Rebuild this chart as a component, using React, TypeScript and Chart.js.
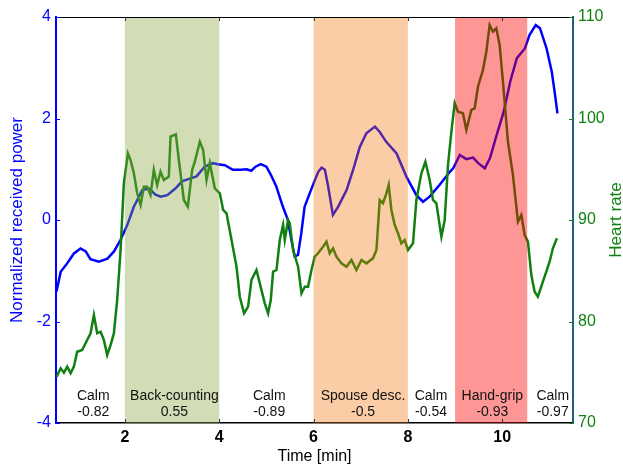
import React, { useEffect, useRef } from 'react';
import { Chart, registerables } from 'chart.js';

Chart.register(...registerables);

// Normalized received power (left axis)
const powerTime = [0.55, 0.64, 0.78, 0.92, 1.06, 1.17, 1.27, 1.45, 1.63, 1.77, 1.91, 2.05, 2.19, 2.37, 2.51, 2.65, 2.76, 2.9, 3.07, 3.21, 3.39, 3.52, 3.69, 3.87, 3.97, 4.12, 4.29, 4.45, 4.58, 4.68, 4.77, 4.88, 5.0, 5.1, 5.21, 5.35, 5.45, 5.53, 5.6, 5.67, 5.74, 5.81, 5.92, 6.03, 6.1, 6.17, 6.24, 6.31, 6.41, 6.52, 6.7, 6.84, 6.98, 7.12, 7.3, 7.4, 7.54, 7.76, 7.97, 8.18, 8.32, 8.46, 8.67, 8.89, 8.96, 9.1, 9.24, 9.38, 9.49, 9.63, 9.74, 9.88, 10.03, 10.17, 10.31, 10.48, 10.58, 10.71, 10.8, 10.94, 11.05, 11.12, 11.17];
const powerValues = [-1.41, -1.02, -0.85, -0.66, -0.56, -0.62, -0.77, -0.82, -0.76, -0.62, -0.39, -0.1, 0.26, 0.59, 0.62, 0.5, 0.46, 0.49, 0.62, 0.76, 0.82, 0.86, 1.05, 1.12, 1.1, 1.08, 0.99, 0.99, 1.0, 0.97, 1.05, 1.1, 1.05, 0.88, 0.66, 0.26, 0.02, -0.39, -0.72, -0.69, -0.26, 0.26, 0.53, 0.79, 0.95, 1.03, 0.99, 0.66, 0.1, 0.26, 0.59, 0.99, 1.44, 1.71, 1.84, 1.74, 1.54, 1.31, 0.85, 0.49, 0.36, 0.46, 0.69, 0.95, 1.02, 1.28, 1.2, 1.23, 1.12, 1.02, 1.22, 1.67, 2.13, 2.73, 3.19, 3.38, 3.65, 3.84, 3.78, 3.38, 2.92, 2.46, 2.1];

// Heart rate (right axis)
const hrTime = [0.553, 0.638, 0.708, 0.778, 0.85, 0.919, 0.989, 1.095, 1.201, 1.273, 1.343, 1.413, 1.485, 1.555, 1.625, 1.697, 1.767, 1.837, 1.909, 1.979, 2.064, 2.121, 2.191, 2.261, 2.333, 2.403, 2.472, 2.544, 2.614, 2.684, 2.756, 2.826, 2.932, 2.968, 3.081, 3.144, 3.25, 3.335, 3.426, 3.483, 3.589, 3.659, 3.731, 3.801, 3.907, 4.013, 4.083, 4.155, 4.261, 4.367, 4.436, 4.527, 4.612, 4.684, 4.79, 4.86, 4.966, 5.036, 5.093, 5.142, 5.214, 5.284, 5.354, 5.39, 5.46, 5.496, 5.566, 5.672, 5.744, 5.814, 5.883, 5.956, 6.025, 6.095, 6.201, 6.273, 6.343, 6.413, 6.485, 6.591, 6.697, 6.803, 6.909, 7.015, 7.121, 7.261, 7.333, 7.403, 7.472, 7.544, 7.593, 7.65, 7.72, 7.79, 7.862, 7.932, 8.002, 8.108, 8.18, 8.286, 8.371, 8.462, 8.532, 8.604, 8.71, 8.78, 8.85, 8.922, 8.992, 9.061, 9.167, 9.239, 9.345, 9.415, 9.485, 9.591, 9.663, 9.733, 9.803, 9.875, 9.945, 10.015, 10.121, 10.227, 10.333, 10.405, 10.475, 10.545, 10.617, 10.686, 10.756, 10.862, 10.934, 11.004, 11.074, 11.159];
const hrValues = [74.56, 75.39, 74.96, 75.55, 74.9, 75.55, 77.02, 77.19, 78.18, 78.84, 80.64, 78.84, 79.0, 78.18, 76.7, 77.68, 78.84, 82.12, 87.04, 93.62, 96.57, 95.91, 94.6, 92.63, 91.48, 93.28, 93.28, 92.46, 94.93, 93.45, 94.76, 93.94, 94.27, 98.21, 98.44, 95.91, 91.97, 91.31, 94.93, 95.74, 97.71, 96.9, 93.94, 95.59, 93.12, 92.63, 90.99, 90.66, 88.03, 85.4, 82.44, 80.81, 81.46, 84.09, 85.07, 83.76, 81.79, 80.81, 82.12, 84.91, 85.07, 88.03, 89.51, 88.03, 90.0, 89.67, 87.04, 85.4, 82.78, 83.43, 83.43, 85.07, 86.38, 86.72, 87.37, 87.86, 86.72, 87.21, 86.38, 85.73, 85.4, 86.06, 85.07, 86.06, 85.73, 86.23, 87.04, 91.97, 91.65, 92.63, 93.45, 90.99, 89.51, 88.69, 87.7, 88.03, 87.04, 87.7, 91.97, 94.6, 95.74, 93.94, 91.97, 91.65, 88.35, 90.0, 95.42, 98.7, 101.5, 100.67, 100.51, 98.87, 100.84, 101.0, 103.13, 104.78, 106.58, 109.21, 108.55, 108.89, 107.24, 103.63, 97.71, 94.43, 89.83, 90.49, 88.52, 87.86, 84.58, 82.94, 82.44, 83.92, 84.91, 85.89, 87.21, 88.2];

const xTicks = [2, 4, 6, 8, 10];
const powerTicks = [-4, -2, 0, 2, 4];
const hrTicks = [70, 80, 90, 100, 110];

const shadeStart = [2, 6, 9];
const shadeEnd = [4, 8, 10.53];
const shadeColors = ['rgba(137,166,60,0.38)', 'rgba(241,113,0,0.35)', 'rgba(255,0,0,0.41)'];

const phaseNames = ['Calm', 'Back-counting', 'Calm', 'Spouse desc.', 'Calm', 'Hand-grip', 'Calm'];
const phaseCorr = ['-0.82', '0.55', '-0.89', '-0.5', '-0.54', '-0.93', '-0.97'];
const phaseCenter = [1.33, 3.05, 5.06, 7.05, 8.49, 9.79, 11.07];

const FONT = '"Liberation Sans", Arial, Helvetica, sans-serif';
const BLUE = '#0000ff';
const GREEN = '#108010';
const TEAL = '#1f5f7f';

const overlayPlugin = {
  id: 'overlayPlugin',
  afterDatasetsDraw(chart: any) {
    const { ctx, chartArea: ca, scales } = chart;
    const x = scales.x;
    const yl = scales.y;
    const yr = scales.y2;
    ctx.save();
    // shaded phases (drawn over the lines, translucent)
    shadeStart.forEach((s, i) => {
      const x1 = x.getPixelForValue(s);
      const x2 = x.getPixelForValue(shadeEnd[i]);
      ctx.fillStyle = shadeColors[i];
      ctx.fillRect(x1, ca.top, x2 - x1, ca.bottom - ca.top);
    });
    // phase labels
    ctx.fillStyle = '#111';
    ctx.font = '14px ' + FONT;
    ctx.textAlign = 'center';
    ctx.textBaseline = 'middle';
    phaseNames.forEach((n, i) => {
      const px = x.getPixelForValue(phaseCenter[i]);
      ctx.fillText(n, px, ca.bottom - 27);
      ctx.fillText(phaseCorr[i], px, ca.bottom - 10.5);
    });
    // top border
    ctx.strokeStyle = '#000';
    ctx.lineWidth = 1.2;
    ctx.beginPath();
    ctx.moveTo(ca.left, ca.top + 0.5);
    ctx.lineTo(ca.right, ca.top + 0.5);
    ctx.stroke();
    // inward ticks
    const tl = 4;
    ctx.lineWidth = 1;
    ctx.strokeStyle = '#333';
    xTicks.forEach((v) => {
      const px = Math.round(x.getPixelForValue(v)) + 0.5;
      ctx.beginPath();
      ctx.moveTo(px, ca.bottom);
      ctx.lineTo(px, ca.bottom - tl);
      ctx.moveTo(px, ca.top);
      ctx.lineTo(px, ca.top + tl);
      ctx.stroke();
    });
    ctx.strokeStyle = BLUE;
    powerTicks.forEach((v) => {
      const py = Math.round(yl.getPixelForValue(v)) + 0.5;
      ctx.beginPath();
      ctx.moveTo(ca.left, py);
      ctx.lineTo(ca.left + tl, py);
      ctx.stroke();
    });
    ctx.strokeStyle = GREEN;
    hrTicks.forEach((v) => {
      const py = Math.round(yr.getPixelForValue(v)) + 0.5;
      ctx.beginPath();
      ctx.moveTo(ca.right, py);
      ctx.lineTo(ca.right - tl, py);
      ctx.stroke();
    });
    // right axis title (reads bottom to top)
    ctx.fillStyle = GREEN;
    ctx.font = '17px ' + FONT;
    ctx.textAlign = 'center';
    ctx.textBaseline = 'alphabetic';
    ctx.translate(621, (ca.top + ca.bottom) / 2);
    ctx.rotate(-Math.PI / 2);
    ctx.fillText('Heart rate', 0, 0);
    ctx.restore();
  },
};

export default function App() {
  const canvasRef = useRef<HTMLCanvasElement | null>(null);

  useEffect(() => {
    if (!canvasRef.current) return;
    Chart.defaults.font.family = FONT;
    const chart = new Chart(canvasRef.current, {
      type: 'line',
      data: {
        datasets: [
          {
            label: 'Heart rate',
            data: hrTime.map((t, i) => ({ x: t, y: hrValues[i] })),
            yAxisID: 'y2',
            borderColor: GREEN,
            borderWidth: 2.5,
            pointRadius: 0,
            tension: 0,
            order: 0,
          },
          {
            label: 'Normalized received power',
            data: powerTime.map((t, i) => ({ x: t, y: powerValues[i] })),
            yAxisID: 'y',
            borderColor: BLUE,
            borderWidth: 2.5,
            pointRadius: 0,
            tension: 0,
            order: 1,
          },
        ],
      },
      options: {
        responsive: false,
        animation: false,
        layout: { padding: { top: 17, left: 0, right: 0, bottom: 0 } },
        plugins: { legend: { display: false }, tooltip: { enabled: false } },
        scales: {
          x: {
            type: 'linear',
            min: 0.54,
            max: 11.5,
            afterBuildTicks: (s: any) => {
              s.ticks = xTicks.map((v) => ({ value: v }));
            },
            afterFit: (s: any) => {
              s.height = 45;
            },
            grid: { display: true, drawOnChartArea: false, drawTicks: false },
            border: { display: true, color: '#000', width: 1.5 },
            ticks: {
              padding: 5,
              color: '#000',
              font: { size: 16, weight: 'bold', family: FONT },
              maxRotation: 0,
            },
            title: {
              display: true,
              text: 'Time [min]',
              color: '#000',
              font: { size: 16, family: FONT },
              padding: { top: 0, bottom: 2 },
            },
          },
          y: {
            type: 'linear',
            position: 'left',
            min: -4,
            max: 4,
            afterBuildTicks: (s: any) => {
              s.ticks = powerTicks.map((v) => ({ value: v }));
            },
            afterFit: (s: any) => {
              s.width = 56;
            },
            grid: { display: true, drawOnChartArea: false, drawTicks: false },
            border: { display: true, color: BLUE, width: 2 },
            ticks: { padding: 5, color: BLUE, font: { size: 16, family: FONT } },
            title: {
              display: true,
              text: 'Normalized received power',
              color: BLUE,
              font: { size: 17, family: FONT },
              padding: { top: 7, bottom: 0 },
            },
          },
          y2: {
            type: 'linear',
            position: 'right',
            min: 70,
            max: 110,
            afterBuildTicks: (s: any) => {
              s.ticks = hrTicks.map((v) => ({ value: v }));
            },
            afterFit: (s: any) => {
              s.width = 50;
            },
            grid: { display: true, drawOnChartArea: false, drawTicks: false },
            border: { display: true, color: TEAL, width: 2 },
            ticks: { padding: 5, color: GREEN, font: { size: 16, family: FONT } },
          },
        },
      },
      plugins: [overlayPlugin],
    } as any);
    return () => chart.destroy();
  }, []);

  return (
    <div style={{ position: 'absolute', left: 0, top: 0, width: 623, height: 468, background: '#fff' }}>
      <canvas ref={canvasRef} width={623} height={468} style={{ display: 'block' }} />
    </div>
  );
}
